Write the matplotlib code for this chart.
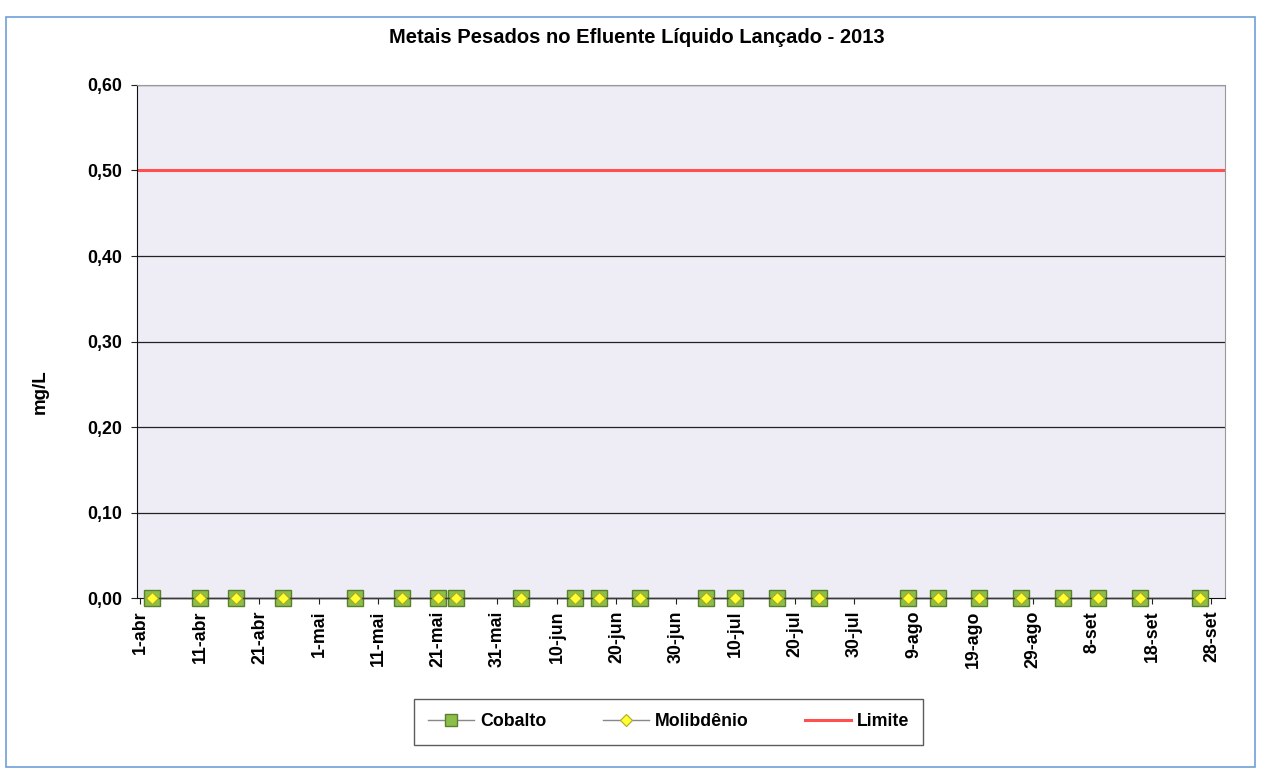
import datetime as dt

import matplotlib
matplotlib.use("Agg")
from matplotlib import pyplot as plt
from matplotlib.patches import Rectangle

plt.rcParams["font.family"] = ["Liberation Sans", "DejaVu Sans"]
plt.rcParams["font.weight"] = "bold"

# sampling dates (2013) and results in mg/L
sample_dates = [(4, 3), (4, 11), (4, 17), (4, 25), (5, 7), (5, 15), (5, 21), (5, 24),
                (6, 4), (6, 13), (6, 17), (6, 24), (7, 5), (7, 10), (7, 17), (7, 24),
                (8, 8), (8, 13), (8, 20), (8, 27), (9, 3), (9, 9), (9, 16), (9, 26)]
cobalto = [0.0] * len(sample_dates)
molibdenio = [0.0] * len(sample_dates)
limite_dates = [(3, 31), (9, 30)]
limite = [0.5, 0.5]

month_names = ["jan", "fev", "mar", "abr", "mai", "jun",
               "jul", "ago", "set", "out", "nov", "dez"]
y_ticks = [0.0, 0.1, 0.2, 0.3, 0.4, 0.5, 0.6]

days = [dt.datetime(2013, m, d) for m, d in sample_dates]
lim_days = [dt.datetime(2013, m, d) for m, d in limite_dates]

fig = plt.figure(figsize=(12.64, 7.72), dpi=100)
ax = fig.add_axes([0.108, 0.225, 0.861, 0.665])
ax.set_facecolor("#eeedf6")

for y in y_ticks[1:]:
    ax.axhline(y, color="#222222", lw=0.9, zorder=1)

ax.plot(days, cobalto, color="#3a3a3a", lw=1.0, marker="s", ms=11,
        mfc="#8cbf4a", mec="#5b7f2c", mew=1.0, label="Cobalto", zorder=3,
        clip_on=False)
ax.plot(days, molibdenio, color="#3a3a3a", lw=1.0, marker="D", ms=6.5,
        mfc="#ffff33", mec="#b0a820", mew=0.8, label="Molibdênio", zorder=4,
        clip_on=False)
ax.plot(lim_days, limite, color="#ff4f4f", lw=2.2, label="Limite", zorder=2)

ax.set_ylim(0, 0.6)
ax.set_yticks(y_ticks)
ax.set_yticklabels(["{:.2f}".format(v).replace(".", ",") for v in y_ticks])
ax.set_xlim(dt.datetime(2013, 3, 31, 8), dt.datetime(2013, 9, 30, 6))

x_ticks = [dt.datetime(2013, 4, 1) + dt.timedelta(days=10 * i) for i in range(19)]
ax.set_xticks(x_ticks)
ax.set_xticklabels(["{}-{}".format(t.day, month_names[t.month - 1]) for t in x_ticks],
                   rotation=90)
ax.tick_params(axis="both", labelsize=12.8, length=4, color="#222222")
ax.tick_params(axis="x", pad=5)
ax.tick_params(axis="y", pad=6)

for side in ["top", "right"]:
    ax.spines[side].set_color("#999999")
    ax.spines[side].set_linewidth(0.8)
ax.spines["left"].set_color("#111111")
ax.spines["bottom"].set_color("#111111")

fig.text(0.032, 1 - 392 / 772, "mg/L", rotation=90, ha="center", va="center",
         fontsize=13.5, fontweight="bold")
fig.text(0.504, 0.951, "Metais Pesados no Efluente Líquido Lançado - 2013",
         ha="center", va="center", fontsize=14.5, fontweight="bold")

leg = fig.legend(loc="center", bbox_to_anchor=(0.529, 0.065), ncol=3,
                 frameon=True, fancybox=False, edgecolor="#333333",
                 fontsize=12.8, handlelength=2.6, columnspacing=3.2,
                 borderpad=0.8, handletextpad=0.3)
leg.get_frame().set_linewidth(1.0)
for h in leg.legend_handles[:2]:
    h.set_color("#888888")
leg.legend_handles[0].set_markersize(9)
leg.legend_handles[1].set_markersize(6)

# outer chart border
fig.patches.append(Rectangle((0.005, 0.006), 0.988, 0.972, transform=fig.transFigure,
                             fill=False, edgecolor="#6fa0d8", lw=1.2))

fig.savefig("out.png", dpi=100)
